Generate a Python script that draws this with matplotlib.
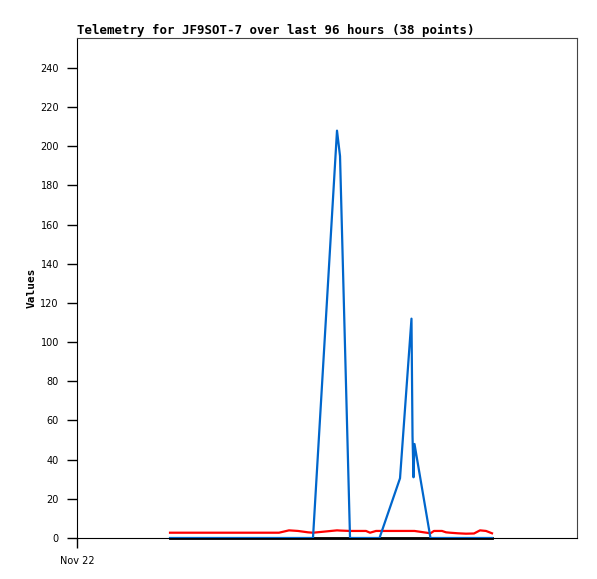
import matplotlib
matplotlib.use("Agg")
import matplotlib.pyplot as plt

# hours since Nov 22 00:00
hours = [17.86, 20.74, 23.62, 26.50, 29.38, 32.26, 35.14, 37.06, 38.78, 40.70,
         42.43, 44.35, 45.31, 49.92, 50.50, 52.42, 53.18, 53.95, 55.49, 56.26,
         57.41, 58.08, 62.02, 64.22, 64.42, 64.61, 64.80, 67.87, 68.54, 70.08,
         70.85, 71.62, 73.15, 74.69, 76.22, 77.38, 78.53, 79.68]

blue_vals = [0, 0, 0, 0, 0, 0, 0, 0, 0, 0,
             0, 0, 0, 208, 195, 0, 0, 0, 0, 0,
             0, 0, 30.5, 112, 52, 31, 48, 0, 0, 0,
             0, 0, 0, 0, 0, 0, 0, 0]

red_vals = [2.7, 2.7, 2.7, 2.7, 2.7, 2.7, 2.7, 2.7, 2.7, 3.9,
            3.6, 2.9, 2.7, 3.9, 3.8, 3.6, 3.6, 3.6, 3.6, 2.7,
            3.6, 3.6, 3.6, 3.6, 3.6, 3.6, 3.6, 2.4, 3.6, 3.6,
            2.9, 2.7, 2.4, 2.2, 2.3, 3.9, 3.6, 2.4]

black_vals = [0] * len(hours)

y_ticks = list(range(0, 260, 20))
x_ticks = [0]
x_labels = ["Nov 22"]

fig = plt.figure(figsize=(5.97, 5.79), dpi=100)
ax = fig.add_axes([77/597, 41/579, 500/597, 500/579])

ax.plot(hours, black_vals, color="black", lw=2.0, zorder=2, clip_on=False)
ax.plot(hours, red_vals, color="#ff0000", lw=1.6, zorder=3)
ax.plot(hours, blue_vals, color="#0066cc", lw=1.6, zorder=4)

ax.set_xlim(0, 96)
ax.set_ylim(0, 255.3)
ax.set_yticks(y_ticks)
ax.set_xticks(x_ticks)
ax.set_xticklabels(x_labels)
ax.tick_params(axis="both", direction="out", length=7, width=1, labelsize=7, pad=6)

for s in ["left", "bottom"]:
    ax.spines[s].set_color("black")
for s in ["top", "right"]:
    ax.spines[s].set_color("#444444")

ax.set_title("Telemetry for JF9SOT-7 over last 96 hours (38 points)",
             loc="left", fontsize=9, fontweight="bold", family="DejaVu Sans Mono", pad=3)
ax.set_ylabel("Values", fontsize=8, fontweight="bold", family="DejaVu Sans Mono")
ax.yaxis.set_label_coords(-0.08, 0.5)

fig.savefig("out.png", dpi=100)
